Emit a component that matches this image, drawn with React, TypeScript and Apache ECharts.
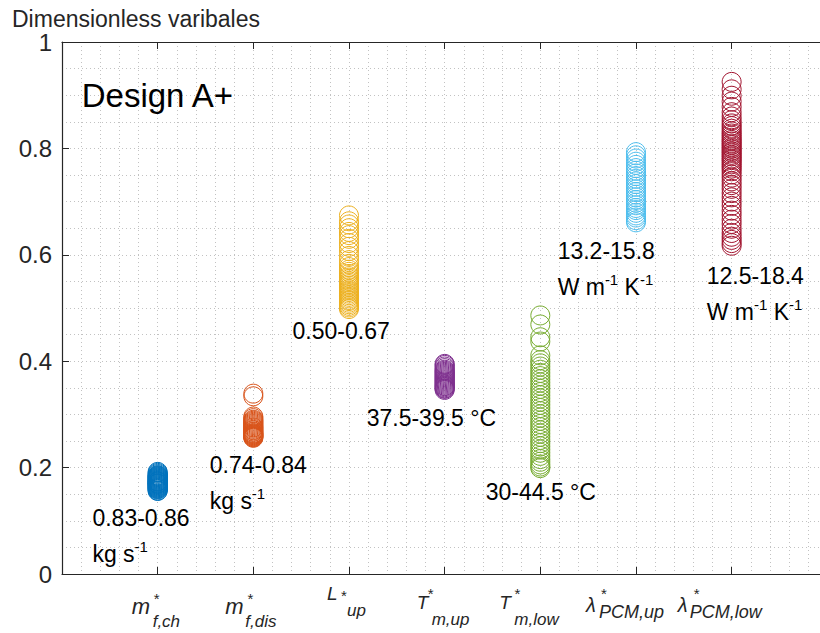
import React, { useEffect, useRef } from "react";
import * as echarts from "echarts";

// ---------- data ----------
const categoryKeys = ["m*_f,ch", "m*_f,dis", "L*_up", "T*_m,up", "T*_m,low", "λ*_PCM,up", "λ*_PCM,low"];
const labelMain = ["m", "m", "L", "T", "T", "λ", "λ"];
const labelSub = ["f,ch", "f,dis", "up", "m,up", "m,low", "PCM,up", "PCM,low"];

const mfCh = [0.156, 0.157, 0.159, 0.160, 0.161, 0.162, 0.163, 0.164, 0.165, 0.166, 0.167, 0.168, 0.169, 0.170, 0.170, 0.171, 0.172, 0.173, 0.174, 0.174, 0.175, 0.176, 0.177, 0.178, 0.179, 0.180, 0.181, 0.182, 0.183, 0.184, 0.185, 0.186, 0.188, 0.190, 0.192];
const mfDis = [0.256, 0.257, 0.258, 0.259, 0.260, 0.261, 0.262, 0.263, 0.264, 0.265, 0.267, 0.268, 0.270, 0.271, 0.273, 0.275, 0.276, 0.278, 0.280, 0.282, 0.284, 0.286, 0.288, 0.290, 0.293, 0.296, 0.334, 0.339];
const lUp = [0.498, 0.501, 0.504, 0.507, 0.510, 0.513, 0.515, 0.518, 0.521, 0.524, 0.527, 0.530, 0.533, 0.536, 0.539, 0.542, 0.545, 0.548, 0.551, 0.554, 0.557, 0.560, 0.564, 0.568, 0.572, 0.577, 0.583, 0.590, 0.598, 0.607, 0.615, 0.622, 0.630, 0.637, 0.643, 0.650, 0.657, 0.663, 0.674];
const tmUp = [0.346, 0.348, 0.349, 0.351, 0.353, 0.354, 0.356, 0.358, 0.360, 0.362, 0.364, 0.366, 0.368, 0.370, 0.372, 0.374, 0.376, 0.378, 0.380, 0.382, 0.384, 0.387, 0.390, 0.393, 0.395];
const tmLow = [0.199, 0.202, 0.206, 0.211, 0.216, 0.222, 0.228, 0.234, 0.240, 0.246, 0.252, 0.258, 0.264, 0.270, 0.276, 0.282, 0.288, 0.294, 0.300, 0.306, 0.312, 0.318, 0.324, 0.330, 0.336, 0.342, 0.348, 0.354, 0.360, 0.366, 0.372, 0.378, 0.384, 0.390, 0.396, 0.402, 0.411, 0.437, 0.445, 0.469, 0.486];
const lamUp = [0.661, 0.665, 0.670, 0.674, 0.679, 0.684, 0.688, 0.693, 0.698, 0.703, 0.708, 0.713, 0.718, 0.723, 0.728, 0.733, 0.738, 0.743, 0.748, 0.753, 0.758, 0.763, 0.769, 0.775, 0.781, 0.787, 0.793];
const lamLow = [0.617, 0.622, 0.628, 0.634, 0.641, 0.649, 0.658, 0.666, 0.675, 0.683, 0.692, 0.700, 0.708, 0.716, 0.724, 0.731, 0.738, 0.745, 0.751, 0.757, 0.762, 0.766, 0.770, 0.774, 0.778, 0.781, 0.785, 0.788, 0.792, 0.795, 0.799, 0.802, 0.806, 0.809, 0.813, 0.816, 0.820, 0.824, 0.828, 0.832, 0.837, 0.842, 0.847, 0.853, 0.860, 0.868, 0.878, 0.888, 0.899, 0.911, 0.925];

const rangeLabels = [
  ["0.83-0.86", "kg s{sup|-1}"],
  ["0.74-0.84", "kg s{sup|-1}"],
  ["0.50-0.67"],
  ["37.5-39.5 °C"],
  ["30-44.5 °C"],
  ["13.2-15.8", "W m{sup|-1} K{sup|-1}"],
  ["12.5-18.4", "W m{sup|-1} K{sup|-1}"],
];

const yAxisTitle = "Dimensionless varibales";
const panelTitle = "Design A+";

// ---------- styles / layout ----------
const colors = ["#0072BD", "#D95319", "#EDB120", "#7E2F8E", "#77AC30", "#4DBEEE", "#A2142F"];
const FONT = "Liberation Sans, Arial, Helvetica, sans-serif";
const AX = "#262626";
const GRID = "#c2c2c2";

// anchors (data units) for the range annotations: left x, middle y of first line
const annoAnchor = [
  [0.318, 0.106],
  [1.544, 0.204],
  [2.41, 0.457],
  [3.185, 0.2925],
  [4.429, 0.155],
  [5.181, 0.608],
  [6.739, 0.561],
];
const titleAnchor = [0.206, 0.899];

// per-category x label layout (px relative to tick / axis line)
const labelLayout = [
  { mx: -26, mb: 40, ms: 22, sx: -1, sy: 21, bx: -5, bb: 53, bs: 17 },
  { mx: -28, mb: 40, ms: 22, sx: -3, sy: 21, bx: -8, bb: 53, bs: 17 },
  { mx: -22, mb: 26, ms: 19, sx: -5, sy: 18, bx: -2, bb: 42, bs: 17 },
  { mx: -28, mb: 35, ms: 19, sx: -14, sy: 16, bx: -13, bb: 51, bs: 17 },
  { mx: -41, mb: 35, ms: 19, sx: -23, sy: 16, bx: -26, bb: 51, bs: 17 },
  { mx: -50, mb: 38, ms: 20, sx: -32, sy: 16, bx: -37, bb: 44, bs: 18 },
  { mx: -54, mb: 38, ms: 20, sx: -35, sy: 16, bx: -42, bb: 44, bs: 18 },
];

const columns = [mfCh, mfDis, lUp, tmUp, tmLow, lamUp, lamLow];

export default function App() {
  const ref = useRef<HTMLDivElement>(null);

  useEffect(() => {
    if (!ref.current) return;
    const chart = echarts.init(ref.current, null, { renderer: "svg" });

    const dotted = { color: GRID, type: [1, 3] as any, width: 1 };

    const option: any = {
      animation: false,
      backgroundColor: "#ffffff",
      grid: { left: 62, top: 42, width: 765.3, height: 532, containLabel: false, outerBoundsMode: "none" },
      xAxis: [
        {
          type: "value",
          min: 0,
          max: 8,
          interval: 1,
          position: "bottom",
          axisLine: { show: true, onZero: false, lineStyle: { color: AX, width: 1.2 } },
          axisTick: { show: true, inside: true, length: 7, lineStyle: { color: AX, width: 1 } },
          axisLabel: { show: false },
          splitLine: { show: true, lineStyle: dotted },
          minorTick: { show: false, splitNumber: 5 },
          minorSplitLine: { show: true, lineStyle: dotted },
        },
        {
          type: "value",
          min: 0,
          max: 8,
          interval: 1,
          position: "top",
          axisLine: { show: true, onZero: false, lineStyle: { color: AX, width: 1.2 } },
          axisTick: { show: true, inside: true, length: 7, lineStyle: { color: AX, width: 1 } },
          axisLabel: { show: false },
          splitLine: { show: false },
        },
      ],
      yAxis: {
        type: "value",
        min: 0,
        max: 1,
        interval: 0.2,
        name: yAxisTitle,
        nameLocation: "end",
        nameGap: 6,
        nameTextStyle: {
          fontSize: 23,
          fontFamily: FONT,
          color: AX,
          align: "center",
          lineHeight: 18,
          padding: [0, 0, 0, 148],
        },
        axisLine: { show: true, onZero: false, lineStyle: { color: AX, width: 1.2 } },
        axisTick: { show: true, inside: true, length: 7, lineStyle: { color: AX, width: 1 } },
        axisLabel: { fontSize: 24, fontFamily: FONT, color: AX, margin: 10, lineHeight: 18 },
        splitLine: { show: true, lineStyle: dotted },
        minorTick: { show: false, splitNumber: 4 },
        minorSplitLine: { show: true, lineStyle: dotted },
      },
      series: columns.map((vals, i) => ({
        type: "scatter",
        name: categoryKeys[i],
        data: vals.map((v) => [i + 1, v]),
        symbol: "circle",
        symbolSize: 19,
        silent: true,
        itemStyle: { color: "rgba(0,0,0,0)", borderColor: colors[i], borderWidth: 1, opacity: 1 },
      })),
    };

    chart.setOption(option);

    const xPix = (v: number) => chart.convertToPixel({ xAxisIndex: 0 }, v) as number;
    const yPix = (v: number) => chart.convertToPixel({ yAxisIndex: 0 }, v) as number;
    const axisY = yPix(0);

    const elements: any[] = [];

    // x-axis labels (italic letter, star, subscript)
    labelMain.forEach((m, i) => {
      const L = labelLayout[i];
      const tick = xPix(i + 1);
      elements.push({
        type: "text",
        x: tick + L.mx,
        y: axisY + L.mb - 0.3465 * L.ms,
        silent: true,
        style: { text: m, fontSize: L.ms, fontStyle: "italic", fontFamily: FONT, fill: AX, textAlign: "left", textVerticalAlign: "middle" },
      });
      elements.push({
        type: "text",
        x: tick + L.sx,
        y: axisY + L.sy + 3.5,
        silent: true,
        style: { text: "*", fontSize: 15, fontFamily: FONT, fill: AX, textAlign: "center", textVerticalAlign: "middle" },
      });
      elements.push({
        type: "text",
        x: tick + L.bx,
        y: axisY + L.bb - 0.3465 * L.bs,
        silent: true,
        style: { text: labelSub[i], fontSize: L.bs, fontStyle: "italic", fontFamily: FONT, fill: AX, textAlign: "left", textVerticalAlign: "middle" },
      });
    });

    // range annotations
    rangeLabels.forEach((lines, i) => {
      const [ax, ay] = annoAnchor[i];
      elements.push({
        type: "text",
        x: xPix(ax),
        y: yPix(ay) - 18,
        silent: true,
        style: {
          text: lines.join("\n"),
          fontSize: 23,
          fontFamily: FONT,
          fill: "#000",
          lineHeight: 36,
          textAlign: "left",
          textVerticalAlign: "top",
          rich: {
            sup: { fontSize: 15, fontFamily: FONT, fill: "#000", padding: [0, 0, 15, 0], verticalAlign: "middle", lineHeight: 36 },
          },
        },
      });
    });

    // panel title
    elements.push({
      type: "text",
      x: xPix(titleAnchor[0]),
      y: yPix(titleAnchor[1]),
      silent: true,
      style: { text: panelTitle, fontSize: 33, fontFamily: FONT, fill: "#000", textAlign: "left", textVerticalAlign: "middle" },
    });

    chart.setOption({ graphic: { elements } });

    return () => chart.dispose();
  }, []);

  return (
    <div style={{ position: "fixed", left: 0, top: 0, width: 820, height: 633, overflow: "hidden", background: "#fff" }}>
      <div ref={ref} style={{ width: 840, height: 633 }} />
    </div>
  );
}
